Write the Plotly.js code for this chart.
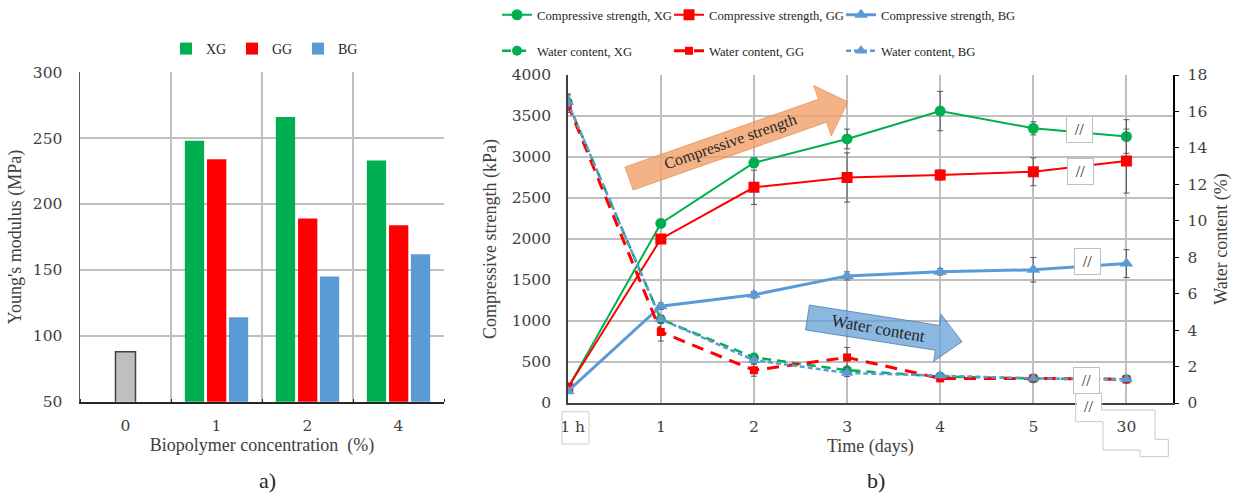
<!DOCTYPE html>
<html>
<head>
<meta charset="utf-8">
<script src="https://cdn.plot.ly/plotly-3.0.1.min.js"></script>
<style>
  html, body { margin: 0; padding: 0; background: #ffffff; }
  #chart { width: 1246px; height: 495px; }
</style>
</head>
<body>
<div id="chart"></div>
<script>
// ---- Panel a): Young's modulus vs biopolymer concentration ----
const concLabels = ['0', '1', '2', '4'];
const controlModulus = [88];
const xgModulus = [248, 266, 233];
const ggModulus = [234, 189, 184];
const bgModulus = [114, 145, 162];

// ---- Panel b): compressive strength (kPa) and water content (%) over time ----
const timeLabels = ['\u00a0\u00a01 h', '1', '2', '3', '4', '5', '30'];
const csXG    = [180, 2190, 2930, 3220, 3560, 3350, 3250];
const csXGErr = [30, 50, 60, 120, 240, 80, 205];
const csGG    = [183, 2000, 2630, 2750, 2780, 2820, 2950];
const csGGErr = [30, 50, 210, 300, 60, 170, 390];
const csBG    = [142, 1180, 1320, 1550, 1600, 1625, 1700];
const csBGErr = [20, 40, 40, 50, 40, 150, 170];
const wcXG    = [16.5, 4.6, 2.5, 1.8, 1.45, 1.35, 1.3];
const wcXGErr = [0.45, 0.2, 0.2, 0.15, 0.1, 0.1, 0.1];
const wcGG    = [16.4, 3.9, 1.8, 2.5, 1.35, 1.35, 1.3];
const wcGGErr = [0.45, 0.5, 0.33, 0.55, 0.1, 0.1, 0.1];
const wcBG    = [16.5, 4.6, 2.35, 1.65, 1.5, 1.35, 1.3];
const wcBGErr = [0.45, 0.2, 0.2, 0.2, 0.1, 0.1, 0.1];

const GREEN = '#00B050', RED = '#FF0000', BLUE = '#5B9BD5', GREY = '#BFBFBF';
const SERIF = 'Liberation Serif';
const NUM_SERIF = 'DejaVu Serif';
const TXT = '#404040';

// figure geometry (pixels) used to place decorations in paper coordinates
const W = 1246, H = 495;
const M = { l: 80, r: 73, t: 72, b: 92 };
const PW = W - M.l - M.r, PH = H - M.t - M.b;
const px2x = p => (p - M.l) / PW;
const py2y = p => (H - M.b - p) / PH;

const concIdx = concLabels.map((_, i) => i);
const timeIdx = timeLabels.map((_, i) => i);

const errStyle = (arr) => ({ type: 'data', array: arr, visible: true, color: '#595959', thickness: 1, width: 3 });

const traces = [
  // bars (panel a)
  { type: 'bar', x: [concIdx[0]], y: controlModulus, xaxis: 'x', yaxis: 'y', width: 0.22, offset: -0.11,
    marker: { color: GREY, line: { color: '#404040', width: 1.5 } }, showlegend: false, name: 'Control' },
  { type: 'bar', x: concIdx.slice(1), y: xgModulus, xaxis: 'x', yaxis: 'y', width: 0.212, offset: -0.348,
    marker: { color: GREEN }, name: 'XG', legend: 'legend3' },
  { type: 'bar', x: concIdx.slice(1), y: ggModulus, xaxis: 'x', yaxis: 'y', width: 0.212, offset: -0.104,
    marker: { color: RED }, name: 'GG', legend: 'legend3' },
  { type: 'bar', x: concIdx.slice(1), y: bgModulus, xaxis: 'x', yaxis: 'y', width: 0.212, offset: 0.136,
    marker: { color: BLUE }, name: 'BG', legend: 'legend3' },

  // water content (panel b, right axis)
  { type: 'scatter', mode: 'lines+markers', x: timeIdx, y: wcXG, xaxis: 'x2', yaxis: 'y3', name: 'Water content, XG',
    line: { color: GREEN, width: 2.5, dash: '9px,6px' }, marker: { symbol: 'circle', size: 10, color: GREEN },
    error_y: errStyle(wcXGErr), legend: 'legend2' },
  { type: 'scatter', mode: 'lines+markers', x: timeIdx, y: wcGG, xaxis: 'x2', yaxis: 'y3', name: 'Water content, GG',
    line: { color: RED, width: 3, dash: '12px,8px' }, marker: { symbol: 'square', size: 8, color: RED },
    error_y: errStyle(wcGGErr), legend: 'legend2' },
  { type: 'scatter', mode: 'lines+markers', x: timeIdx, y: wcBG, xaxis: 'x2', yaxis: 'y3', name: 'Water content, BG',
    line: { color: BLUE, width: 2.5, dash: '5px,3px' }, marker: { symbol: 'triangle-up', size: 11, color: BLUE },
    error_y: errStyle(wcBGErr), legend: 'legend2', legendwidth: 145 },

  // compressive strength (panel b, left axis)
  { type: 'scatter', mode: 'lines+markers', x: timeIdx, y: csXG, xaxis: 'x2', yaxis: 'y2', name: 'Compressive strength, XG',
    line: { color: GREEN, width: 2 }, marker: { symbol: 'circle', size: 11, color: GREEN },
    error_y: errStyle(csXGErr), legend: 'legend' },
  { type: 'scatter', mode: 'lines+markers', x: timeIdx, y: csGG, xaxis: 'x2', yaxis: 'y2', name: 'Compressive strength, GG',
    line: { color: RED, width: 2 }, marker: { symbol: 'square', size: 11, color: RED },
    error_y: errStyle(csGGErr), legend: 'legend' },
  { type: 'scatter', mode: 'lines+markers', x: timeIdx, y: csBG, xaxis: 'x2', yaxis: 'y2', name: 'Compressive strength, BG',
    line: { color: BLUE, width: 3 }, marker: { symbol: 'triangle-up', size: 12, color: BLUE },
    error_y: errStyle(csBGErr), legend: 'legend', legendwidth: 145 }
];

// block arrow polygon built in pixel space, returned as a paper-coordinate path
function blockArrow(x0, y0, angleDeg, len, body, head, headLen) {
  const a = angleDeg * Math.PI / 180;
  const ux = Math.cos(a), uy = Math.sin(a), nx = -uy, ny = ux;
  const hb = len - headLen;
  const local = [[0, -body], [hb, -body], [hb, -head], [len, 0], [hb, head], [hb, body], [0, body]];
  const pts = local.map(([s, t]) => [x0 + ux * s + nx * t, y0 + uy * s + ny * t]);
  return 'M' + pts.map(p => px2x(p[0]).toFixed(5) + ',' + py2y(p[1]).toFixed(5)).join(' L') + ' Z';
}
function pxPath(points) {
  return 'M' + points.map(p => px2x(p[0]).toFixed(5) + ',' + py2y(p[1]).toFixed(5)).join(' L') + ' Z';
}
function pxRect(x0, y0, x1, y1, style) {
  return Object.assign({ type: 'rect', xref: 'paper', yref: 'paper', layer: 'above',
    x0: px2x(x0), x1: px2x(x1), y0: py2y(y1), y1: py2y(y0) }, style);
}
function label(cx, cy, text, font, extra) {
  return Object.assign({ xref: 'paper', yref: 'paper', x: px2x(cx), y: py2y(cy), xanchor: 'center', yanchor: 'middle',
    text: text, showarrow: false, font: font }, extra || {});
}

const shapes = [
  // trend arrows
  { type: 'path', xref: 'paper', yref: 'paper', layer: 'above',
    path: blockArrow(629, 178.5, -19.3, 232, 12.2, 26.7, 27),
    fillcolor: 'rgba(241,160,105,0.8)', line: { color: 'rgba(230,140,80,0.7)', width: 1 } },
  { type: 'path', xref: 'paper', yref: 'paper', layer: 'above',
    path: blockArrow(807.5, 317.5, 8.9, 156.4, 12.6, 23.8, 25),
    fillcolor: 'rgba(100,160,215,0.75)', line: { color: 'rgba(65,113,156,0.7)', width: 1 } },
  // frame around the "1 h" label
  pxRect(562, 411.7, 589, 444, { fillcolor: 'rgba(0,0,0,0)', line: { color: '#CFCFCF', width: 1 } }),
  // axis break region below the time axis
  pxRect(1076.5, 393.5, 1101, 421, { fillcolor: '#ffffff', line: { width: 0 } }),
  { type: 'path', xref: 'paper', yref: 'paper', layer: 'above',
    path: pxPath([[1075.7, 393], [1075.7, 421.7], [1103, 421.7], [1103, 450], [1140, 450], [1140, 456.7],
                  [1168.3, 456.7], [1168.3, 439.3], [1155, 439.3], [1155, 410], [1101.7, 410], [1101.7, 393]]),
    fillcolor: 'rgba(0,0,0,0)', line: { color: '#C8C8C8', width: 1 } }
];

const markFont = { family: SERIF, size: 16, color: '#262626' };
// axis-break marks
const breakBoxes = [[1079.5, 129.5], [1080.5, 171.5], [1087, 261], [1086.5, 380]];
const annotations = breakBoxes.map(([cx, cy]) => label(cx, cy, '//', markFont,
  { bgcolor: '#ffffff', bordercolor: '#BFBFBF', borderwidth: 1, borderpad: 0, width: 25, height: 25 }));
annotations.push(label(1088, 406, '//', markFont));

annotations.push(
  label(730, 142, 'Compressive strength', { family: SERIF, size: 16, color: '#262626' }, { textangle: -19.3 }),
  label(878, 328, 'Water content', { family: SERIF, size: 17, color: '#262626' }, { textangle: 10 }),
  label(267, 480, 'a)', { family: SERIF, size: 22, color: '#262626' }),
  label(876, 480, 'b)', { family: SERIF, size: 22, color: '#262626' })
);

const tickFont = { family: NUM_SERIF, size: 15.5, color: TXT };
const titleFont = { family: SERIF, size: 18, color: TXT };
const legendBase = { orientation: 'h', xref: 'container', yref: 'container', xanchor: 'left', yanchor: 'middle',
  entrywidthmode: 'pixels', bgcolor: 'rgba(0,0,0,0)', borderwidth: 0, itemclick: false, itemdoubleclick: false,
  font: { family: SERIF, size: 12.7, color: '#262626' } };

const layout = {
  width: W, height: H,
  margin: M,
  paper_bgcolor: '#ffffff', plot_bgcolor: '#ffffff',
  font: { family: SERIF, color: TXT },
  barmode: 'overlay',
  showlegend: true,
  legend:  Object.assign({}, legendBase, { x: 497 / W, y: 1 - 15 / H, entrywidth: 127 }),
  legend2: Object.assign({}, legendBase, { x: 497 / W, y: 1 - 51 / H, entrywidth: 127 }),
  legend3: Object.assign({}, legendBase, { x: 166 / W, y: 1 - 49 / H, entrywidth: 21,
    font: { family: SERIF, size: 14, color: '#262626' } }),
  xaxis: {
    domain: [0, px2x(444)], range: [-0.5, 3.5], tickmode: 'array', tickvals: concIdx, ticktext: concLabels,
    showgrid: false, zeroline: false, showline: true, linecolor: '#262626', linewidth: 2,
    ticks: '', tickfont: tickFont, ticklabelstandoff: 9,
    minor: { tick0: -0.5, dtick: 1, showgrid: true, gridcolor: GREY, gridwidth: 2, ticks: 'inside', ticklen: 3, tickcolor: '#262626' },
    title: { text: 'Biopolymer concentration\u00a0 (%)', font: titleFont, standoff: 4 },
    fixedrange: true
  },
  yaxis: {
    domain: [py2y(401.7), py2y(72.3)], range: [50, 300], dtick: 50, anchor: 'x',
    showgrid: true, gridcolor: GREY, gridwidth: 2, zeroline: false,
    showline: true, linecolor: '#595959', linewidth: 1.5, ticks: '', tickfont: tickFont, ticklabelstandoff: 13,
    title: { text: "Young's modulus (MPa)", font: titleFont, standoff: 6 },
    fixedrange: true
  },
  xaxis2: {
    domain: [px2x(567.7), 1], range: [0, 6.5], anchor: 'y2', tickmode: 'array', tickvals: timeIdx, ticktext: timeLabels,
    showgrid: true, gridcolor: GREY, gridwidth: 2, zeroline: false, showline: true, linecolor: '#404040', linewidth: 1.5,
    ticks: '', tickfont: tickFont, ticklabelstandoff: 9,
    title: { text: 'Time (days)', font: titleFont, standoff: 4 },
    fixedrange: true
  },
  yaxis2: {
    domain: [0, py2y(75)], range: [0, 4000], dtick: 500, anchor: 'x2',
    showgrid: true, gridcolor: GREY, gridwidth: 2, zeroline: false, showline: true, linecolor: '#404040', linewidth: 1.5,
    ticks: '', tickfont: tickFont, ticklabelstandoff: 12,
    title: { text: 'Compressive strength (kPa)', font: titleFont, standoff: 10 },
    fixedrange: true
  },
  yaxis3: {
    domain: [0, py2y(75)], range: [0, 18], dtick: 2, overlaying: 'y2', side: 'right', anchor: 'x2',
    showgrid: false, zeroline: false, showline: true, linecolor: '#000000', linewidth: 1.5,
    ticks: 'outside', ticklen: 4, tickcolor: '#000000', tickfont: tickFont, ticklabelstandoff: 6,
    title: { text: 'Water content (%)', font: titleFont, standoff: 8 },
    fixedrange: true
  },
  shapes: shapes,
  annotations: annotations
};

Plotly.newPlot('chart', traces, layout, { displayModeBar: false, staticPlot: true });
</script>
</body>
</html>
